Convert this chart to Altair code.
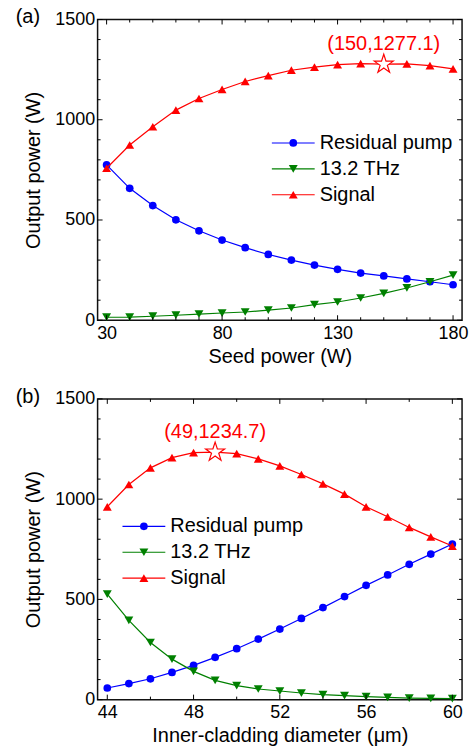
import altair as alt
import pandas as pd

FONT = "Liberation Sans"
W, H = 366, 302
STAR = ("M0,-1L0.2245,-0.309L0.9511,-0.309L0.3633,0.118L0.5878,0.809L0,0.382"
        "L-0.5878,0.809L-0.3633,0.118L-0.9511,-0.309L-0.2245,-0.309Z")

# ---------- panel (a) ----------
seed_power = [30, 40, 50, 60, 70, 80, 90, 100, 110, 120, 130, 140, 150, 160, 170, 180]
pump_a = [775, 658, 572, 501, 446, 400, 362, 328, 300, 275, 254, 235, 221, 206, 192, 177]
thz_a = [15, 16, 20, 25, 30, 36, 41, 50, 61, 78, 91, 111, 134, 161, 192, 225]
signal_a = [758, 874, 965, 1048, 1106, 1151, 1191, 1220, 1247, 1262, 1275, 1280, 1277.1, 1279, 1270, 1254]
peak_a = {"x": [150], "y": [1277.1], "label": ["(150,1277.1)"]}
xticks_a = list(range(30, 181, 10))
xmajor_a = [30, 80, 130, 180]
xdomain_a = [26.1, 183.9]

# ---------- panel (b) ----------
diameter = list(range(44, 61))
pump_b = [58, 80, 104, 136, 171, 211, 254, 302, 352, 405, 459, 514, 570, 622, 675, 726, 776]
thz_b = [526, 395, 285, 202, 141, 96, 70, 53, 43, 33, 25, 20, 15, 11, 8, 6, 5]
signal_b = [962, 1073, 1156, 1207, 1232, 1234.7, 1227, 1201, 1166, 1123, 1076, 1025, 962, 912, 859, 812, 766]
peak_b = {"x": [49], "y": [1234.7], "label": ["(49,1234.7)"]}
xticks_b = list(range(44, 61, 2))
xmajor_b = [44, 48, 52, 56, 60]
xdomain_b = [43.55, 60.45]

yticks = list(range(0, 1501, 100))
ymajor = [0, 500, 1000, 1500]

series = ["Residual pump", "13.2 THz", "Signal"]
colors = ["#0000ff", "#008000", "#ff0000"]
shapes = ["circle", "triangle-down", "triangle-up"]
sizes = [60, 80, 80]


def panel(xs, ys_list, peak, xticks, xmajor, xdomain, xtitle, tag, leg_x, leg_y):
    xs_scale = alt.Scale(domain=xdomain, nice=False, zero=False)
    ys_scale = alt.Scale(domain=[0, 1500], nice=False, zero=False)
    xaxis = alt.Axis(values=xmajor, tickSize=0, domain=False, format="d",
                     labelPadding=4, titlePadding=4, labelFlush=False, title=xtitle)
    yaxis = alt.Axis(values=ymajor, tickSize=0, domain=False, format="d",
                     labelPadding=3, titlePadding=11, labelFlush=False,
                     title="Output power (W)")

    def X(f="x"):
        return alt.X(f + ":Q", scale=xs_scale, axis=xaxis)

    def Y(f="y"):
        return alt.Y(f + ":Q", scale=ys_scale, axis=yaxis)

    layers = []
    for i, vals in enumerate(ys_list):
        df = pd.DataFrame({"x": xs, "y": vals})
        layers.append(alt.Chart(df).mark_line(strokeWidth=1.2, color=colors[i]).encode(x=X(), y=Y()))
        layers.append(alt.Chart(df).mark_point(shape=shapes[i], filled=True, color=colors[i],
                                               size=sizes[i], opacity=1).encode(x=X(), y=Y()))

    pk = pd.DataFrame(peak)
    layers.append(alt.Chart(pk).mark_point(shape=STAR, filled=True, fill="white", stroke="#ff0000",
                                           strokeWidth=1.2, size=400, opacity=1).encode(x=X(), y=Y()))
    layers.append(alt.Chart(pk).mark_text(color="#ff0000", fontSize=20, dy=-20, baseline="middle").encode(
        x=X(), y=Y(), text="label:N"))

    # inward ticks on all four sides
    xminor = [v for v in xticks if v not in xmajor]
    yminor = [v for v in yticks if v not in ymajor]
    for vals, ln in ((xmajor, 5), (xminor, 3)):
        d = pd.DataFrame({"x": vals})
        layers.append(alt.Chart(d).mark_rule(color="black", strokeWidth=1).encode(
            x=X(), y=alt.value(H), y2=alt.value(H - ln)))
        layers.append(alt.Chart(d).mark_rule(color="black", strokeWidth=1).encode(
            x=X(), y=alt.value(0), y2=alt.value(ln)))
    for vals, ln in ((ymajor, 5), (yminor, 3)):
        d = pd.DataFrame({"y": vals})
        layers.append(alt.Chart(d).mark_rule(color="black", strokeWidth=1).encode(
            y=Y(), x=alt.value(0), x2=alt.value(ln)))
        layers.append(alt.Chart(d).mark_rule(color="black", strokeWidth=1).encode(
            y=Y(), x=alt.value(W), x2=alt.value(W - ln)))

    # legend
    for i, name in enumerate(series):
        yy = leg_y + i * 26
        one = pd.DataFrame({"name": [name]})
        layers.append(alt.Chart(one).mark_rule(color=colors[i], strokeWidth=1.2).encode(
            x=alt.value(leg_x), x2=alt.value(leg_x + 43), y=alt.value(yy)))
        layers.append(alt.Chart(one).mark_point(shape=shapes[i], filled=True, color=colors[i],
                                                size=sizes[i], opacity=1).encode(
            x=alt.value(leg_x + 21.5), y=alt.value(yy)))
        layers.append(alt.Chart(one).mark_text(align="left", baseline="middle", fontSize=20,
                                               color="black").encode(
            x=alt.value(leg_x + 48), y=alt.value(yy), text="name:N"))

    # panel tag
    tg = pd.DataFrame({"t": [tag]})
    layers.append(alt.Chart(tg).mark_text(fontSize=20, baseline="middle", align="center",
                                          color="black").encode(
        x=alt.value(-70), y=alt.value(-2), text="t:N"))

    return alt.layer(*layers).properties(width=W, height=H)


top = panel(seed_power, [pump_a, thz_a, signal_a], peak_a, xticks_a, xmajor_a, xdomain_a,
            "Seed power (W)", "(a)", 175, 124)
bottom = panel(diameter, [pump_b, thz_b, signal_b], peak_b, xticks_b, xmajor_b, xdomain_b,
               "Inner-cladding diameter (μm)", "(b)", 25, 128)

chart = alt.vconcat(top, bottom, spacing=79, bounds="flush").properties(
    padding={"left": 15, "top": 5, "right": 7, "bottom": 5}
).configure_view(
    stroke="#111111", strokeWidth=1.5
).configure_axis(
    labelFont=FONT, titleFont=FONT, labelFontSize=18, titleFontSize=20,
    titleFontWeight="normal", labelColor="black", titleColor="black", grid=False
).configure_text(font=FONT)

chart.save("out.html", embed_options={"renderer": "svg", "actions": False})
